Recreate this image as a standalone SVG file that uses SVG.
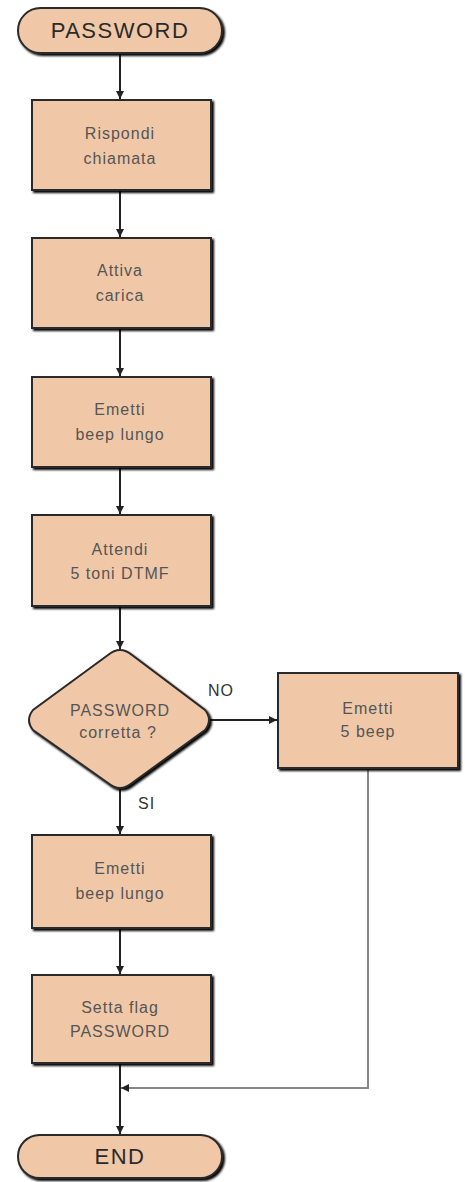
<svg xmlns="http://www.w3.org/2000/svg" width="465" height="1182" viewBox="0 0 465 1182">
<defs>
<marker id="ah" viewBox="0 0 10 10" refX="10" refY="5" markerWidth="8" markerHeight="8" markerUnits="userSpaceOnUse" orient="auto">
<path d="M0,0 L10,5 L0,10 z" fill="#222"/>
</marker>
<filter id="sh" x="-10%" y="-10%" width="130%" height="130%">
<feOffset dx="2" dy="2" in="SourceAlpha" result="o"/>
<feGaussianBlur in="o" stdDeviation="1" result="b"/>
<feMerge><feMergeNode in="b"/><feMergeNode in="SourceGraphic"/></feMerge>
</filter>
</defs>
<style>
.n{fill:#f0c8a8;stroke:#2a2a2a;stroke-width:2;filter:url(#sh)}
.t{font-family:"Liberation Sans",Arial,sans-serif;font-size:16px;letter-spacing:1px;fill:#555;text-anchor:middle}
.tt{font-family:"Liberation Sans",Arial,sans-serif;font-size:22px;letter-spacing:1.5px;fill:#2a2a2a;text-anchor:middle}
.l{font-family:"Liberation Sans",Arial,sans-serif;font-size:16px;letter-spacing:1px;fill:#333}
.c{stroke:#222;stroke-width:2;fill:none}
.g{stroke:#888;stroke-width:2;fill:none}
</style>
<rect width="465" height="1182" fill="#fff"/>
<g id="connectors">
<line class="c" x1="120" y1="53" x2="120" y2="99" marker-end="url(#ah)"/>
<line class="c" x1="120" y1="190" x2="120" y2="237" marker-end="url(#ah)"/>
<line class="c" x1="120" y1="328" x2="120" y2="376" marker-end="url(#ah)"/>
<line class="c" x1="120" y1="467" x2="120" y2="514" marker-end="url(#ah)"/>
<line class="c" x1="120" y1="606" x2="120" y2="649" marker-end="url(#ah)"/>
<line class="c" x1="210" y1="720" x2="277" y2="720" marker-end="url(#ah)"/>
<line class="c" x1="120" y1="788" x2="120" y2="834" marker-end="url(#ah)"/>
<line class="c" x1="120" y1="928" x2="120" y2="974" marker-end="url(#ah)"/>
<line class="c" x1="120" y1="1063" x2="120" y2="1134" marker-end="url(#ah)"/>
<polyline class="g" points="368,768 368,1088 121,1088" marker-end="url(#ah)"/>
<text class="l" x="208" y="696">NO</text>
<text class="l" x="138" y="809">SI</text>
</g>
<g id="start">
<rect class="n" x="18" y="8" width="204" height="45" rx="22.5"/>
<text class="tt" x="120" y="38">PASSWORD</text>
</g>
<g id="rispondi">
<rect class="n" x="32" y="100" width="179" height="90"/>
<text class="t" x="120" y="139">Rispondi</text>
<text class="t" x="120" y="164">chiamata</text>
</g>
<g id="attiva">
<rect class="n" x="32" y="238" width="179" height="90"/>
<text class="t" x="120" y="276">Attiva</text>
<text class="t" x="120" y="301">carica</text>
</g>
<g id="emetti1">
<rect class="n" x="32" y="377" width="179" height="90"/>
<text class="t" x="120" y="415">Emetti</text>
<text class="t" x="120" y="440">beep lungo</text>
</g>
<g id="attendi">
<rect class="n" x="32" y="515" width="179" height="91"/>
<text class="t" x="120" y="555">Attendi</text>
<text class="t" x="120" y="579">5 toni DTMF</text>
</g>
<g id="decision">
<path class="n" d="M108,655 Q120,645 132,655 L205,710 Q213,720 205,730 L132,783 Q120,793 108,783 L33,730 Q25,720 33,710 Z"/>
<text class="t" x="120" y="716">PASSWORD</text>
<text class="t" x="118" y="738">corretta ?</text>
</g>
<g id="emetti5">
<rect class="n" x="278" y="673" width="180" height="95"/>
<text class="t" x="368" y="714">Emetti</text>
<text class="t" x="368" y="737">5 beep</text>
</g>
<g id="emetti2">
<rect class="n" x="32" y="835" width="179" height="93"/>
<text class="t" x="120" y="874">Emetti</text>
<text class="t" x="120" y="899">beep lungo</text>
</g>
<g id="setta">
<rect class="n" x="32" y="975" width="179" height="88"/>
<text class="t" x="120" y="1013">Setta flag</text>
<text class="t" x="120" y="1037">PASSWORD</text>
</g>
<g id="end">
<rect class="n" x="18" y="1135" width="204" height="43" rx="21.5"/>
<text class="tt" x="120" y="1164">END</text>
</g>
</svg>
